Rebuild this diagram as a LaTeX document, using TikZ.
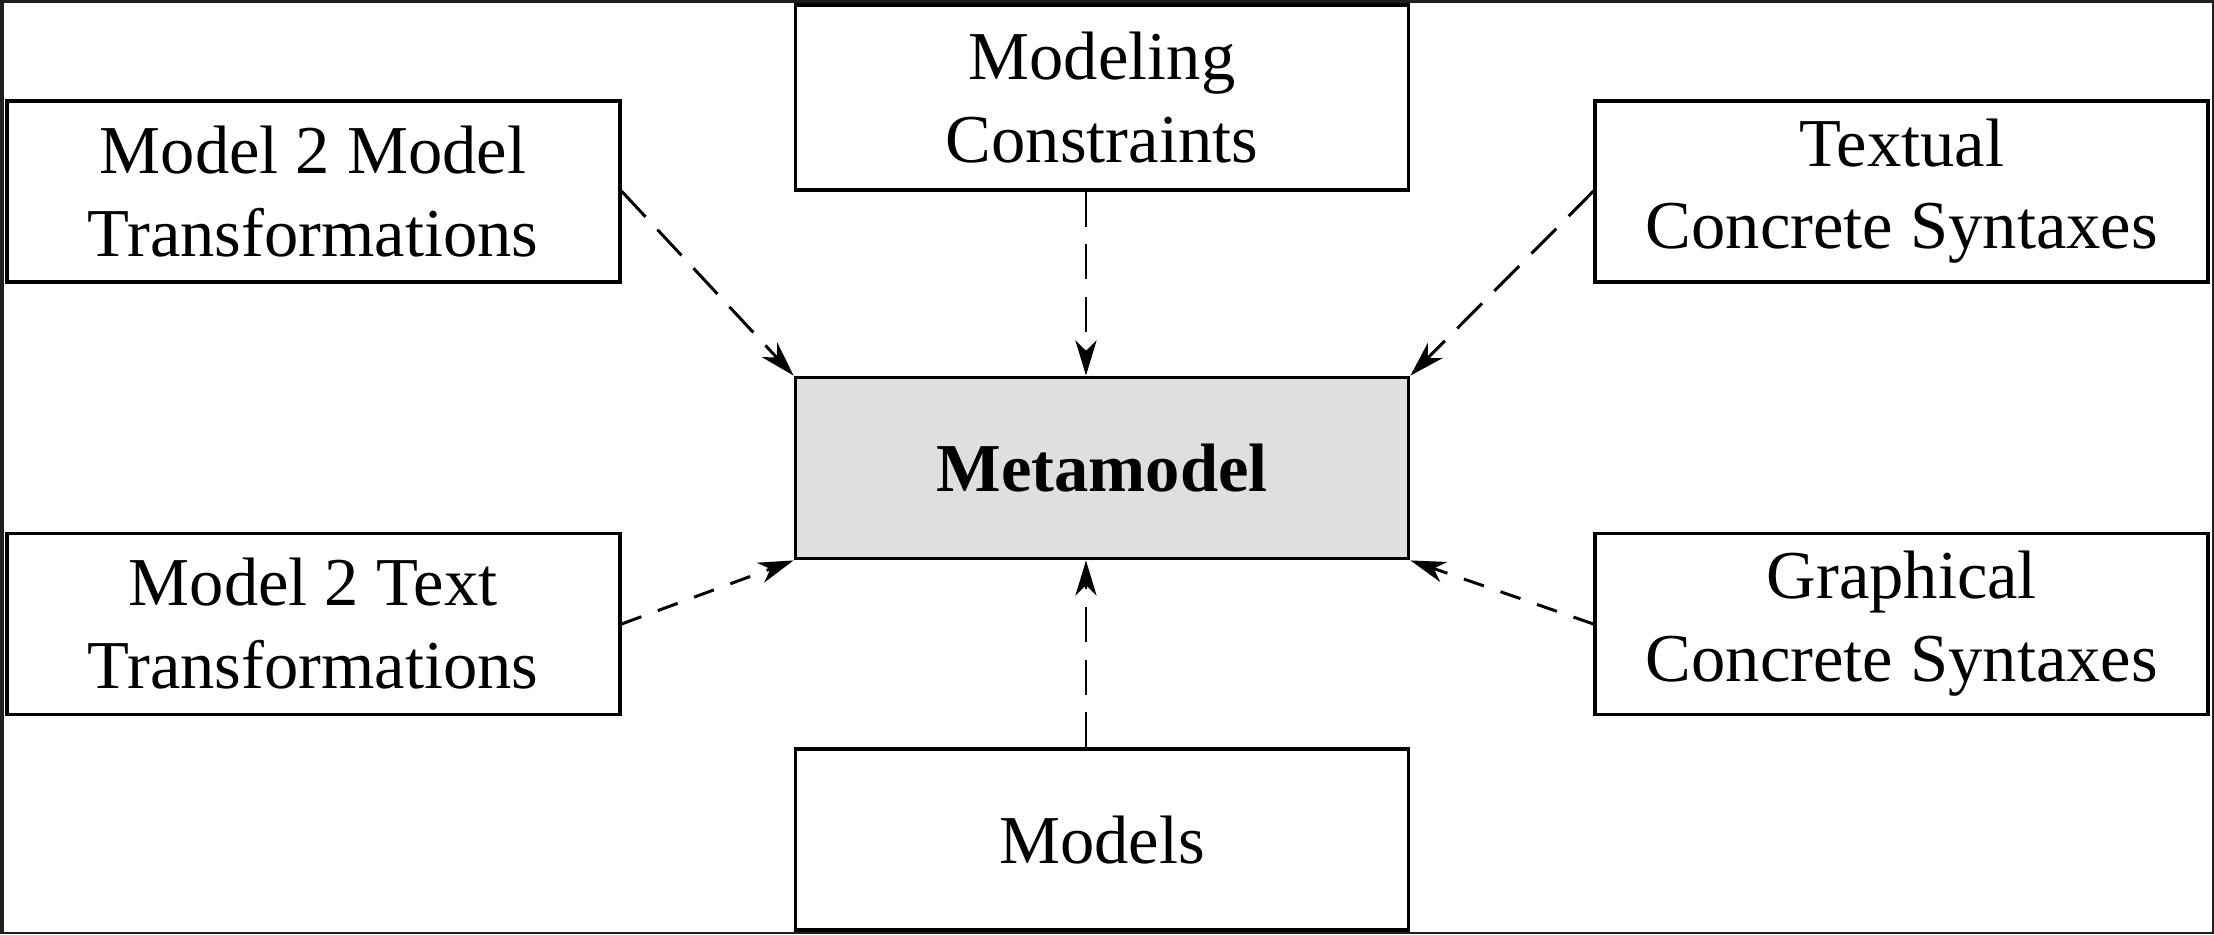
\documentclass[tikz,border=0pt]{standalone}
\usepackage{fontspec}
\setmainfont{Liberation Serif}
\usepackage{tikz}
\usetikzlibrary{arrows.meta}
\usetikzlibrary{positioning}
\definecolor{framedark}{gray}{0.12}
\tikzset{
	node distance=1.8cm,
	every node/.style = {font=\fontsize{19.5}{23.6}\selectfont},
	block/.style = {draw, rectangle, line width=1.1pt, fill=white, align=center, inner sep=0pt,
		minimum width=6.13cm, minimum height=1.81cm}
}

\begin{document}
\begin{tikzpicture}[metablock/.style={block,fill=gray!25,font=\fontsize{19.5}{23.6}\selectfont\bfseries},
	uses/.style={line width=0.85pt,dash pattern=on 10pt off 5pt,-{Stealth[length=10pt,width=6pt,inset=3pt]}},
	usesshort/.style={uses,dash pattern=on 6pt off 5pt}]
	% frame round the picture
	\useasboundingbox (-11.02,-4.66) rectangle (11.12,4.68);
	\fill[framedark] (-11.02,-4.66) rectangle (11.12,4.68);
	\fill[white] (-10.975,-4.64) rectangle (11.10,4.65);
	\node (meta) [metablock] at (0,0) {Metamodel};
	\node (mc) [block,minimum height=1.85cm,above=1.84cm of meta] {Modeling\\Constraints};
	\node (models) [block,below=1.87cm of meta] {Models};
	\node (m2m) [block,above left=0.92cm and 1.72cm of meta] {Model 2 Model\\Transformations};
	\node (tcs) [block,above right=0.92cm and 1.83cm of meta] {Textual\\Concrete Syntaxes};
	\node (m2t) [block,below=2.48cm of m2m] {Model 2 Text\\Transformations};
	\node (gcs) [block,below=2.48cm of tcs] {Graphical\\Concrete Syntaxes};
	\draw [uses] (m2m.east) -- (meta.north west);
	\draw [uses] ([xshift=-0.16cm]mc.south) -- ([xshift=-0.16cm]meta.north);
	\draw [uses] (tcs.west) -- (meta.north east);
	\draw [usesshort] (m2t.east) -- (meta.south west);
	\draw [usesshort] (gcs.west) -- (meta.south east);
	\draw [uses] ([xshift=-0.16cm]models.north) -- ([xshift=-0.16cm]meta.south);
\end{tikzpicture}
\end{document}
